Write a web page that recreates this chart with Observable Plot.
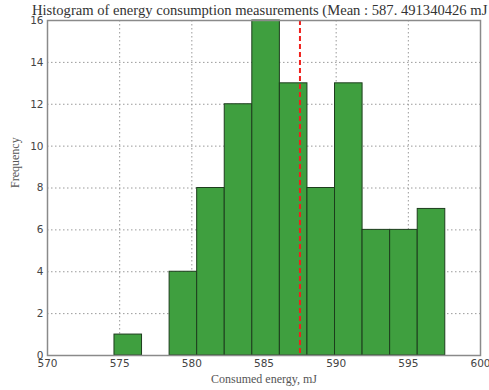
<!DOCTYPE html>
<html><head><meta charset="utf-8">
<script src="https://cdn.jsdelivr.net/npm/d3@7"></script>
<script src="https://cdn.jsdelivr.net/npm/@observablehq/plot@0.6"></script>
<style>
body{margin:0;background:#fff;overflow:hidden;}
#wrap{position:relative;width:489px;height:390px;overflow:hidden;}
svg{display:block;}
#title{position:absolute;left:32px;top:1px;white-space:nowrap;font-family:"Liberation Serif";font-size:14.6px;color:#333;line-height:18px;}
</style>
</head><body><div id="wrap"><div id="chart"></div><div id="title"></div></div>
<script>
const binStarts = [574.64, 576.55, 578.46, 580.37, 582.28, 584.19, 586.10, 588.01, 589.92, 591.83, 593.74, 595.65];
const binEnds   = [576.55, 578.46, 580.37, 582.28, 584.19, 586.10, 588.01, 589.92, 591.83, 593.74, 595.65, 597.56];
const counts    = [1, 0, 4, 8, 12, 16, 13, 8, 13, 6, 6, 7];
const meanValue = 587.491340426;
const xTicks = [570, 575, 580, 585, 590, 595, 600];
const yTicks = [0, 2, 4, 6, 8, 10, 12, 14, 16];
const titleText = "Histogram of energy consumption measurements (Mean : 587. 491340426 mJ";
const xLabel = "Consumed energy, mJ";
const yLabel = "Frequency";

const bins = binStarts.map((s, i) => ({x1: s, x2: binEnds[i], y: counts[i]})).filter(d => d.y > 0);

const plot = Plot.plot({
  width: 489, height: 390,
  marginLeft: 47, marginRight: 9, marginTop: 20, marginBottom: 35,
  style: {background: "#fff", fontFamily: "DejaVu Sans"},
  x: {domain: [570, 600]},
  y: {domain: [0, 16]},
  marks: [
    Plot.gridX(xTicks.slice(1, -1), {stroke: "#9a9a9a", strokeOpacity: 1, strokeDasharray: "1.5,2.5"}),
    Plot.gridY(yTicks.slice(1, -1), {stroke: "#9a9a9a", strokeOpacity: 1, strokeDasharray: "1.5,2.5"}),
    Plot.rectY(bins, {x1: "x1", x2: "x2", y: "y", fill: "rgb(63,159,63)", stroke: "#1d3d1d", strokeWidth: 1}),
    Plot.ruleX([meanValue], {stroke: "#f0201c", strokeWidth: 2, strokeDasharray: "5,3"}),
    Plot.frame({stroke: "#8a8a8a", strokeWidth: 1.5}),
    Plot.axisX(xTicks, {tickSize: 0, tickPadding: 4, fontSize: 10.5, fill: "#444", label: null}),
    Plot.axisY(yTicks, {tickSize: 0, tickPadding: 4, fontSize: 10.5, fill: "#444", label: null}),
    Plot.text([xLabel], {frameAnchor: "bottom", dy: 27, fontFamily: "Liberation Serif", fontSize: 12, fill: "#555"}),
    Plot.text([yLabel], {frameAnchor: "left", dx: -32, rotate: -90, fontFamily: "Liberation Serif", fontSize: 12, fill: "#555"})
  ]
});
document.getElementById("chart").appendChild(plot);
document.getElementById("title").textContent = titleText;
</script></body></html>
